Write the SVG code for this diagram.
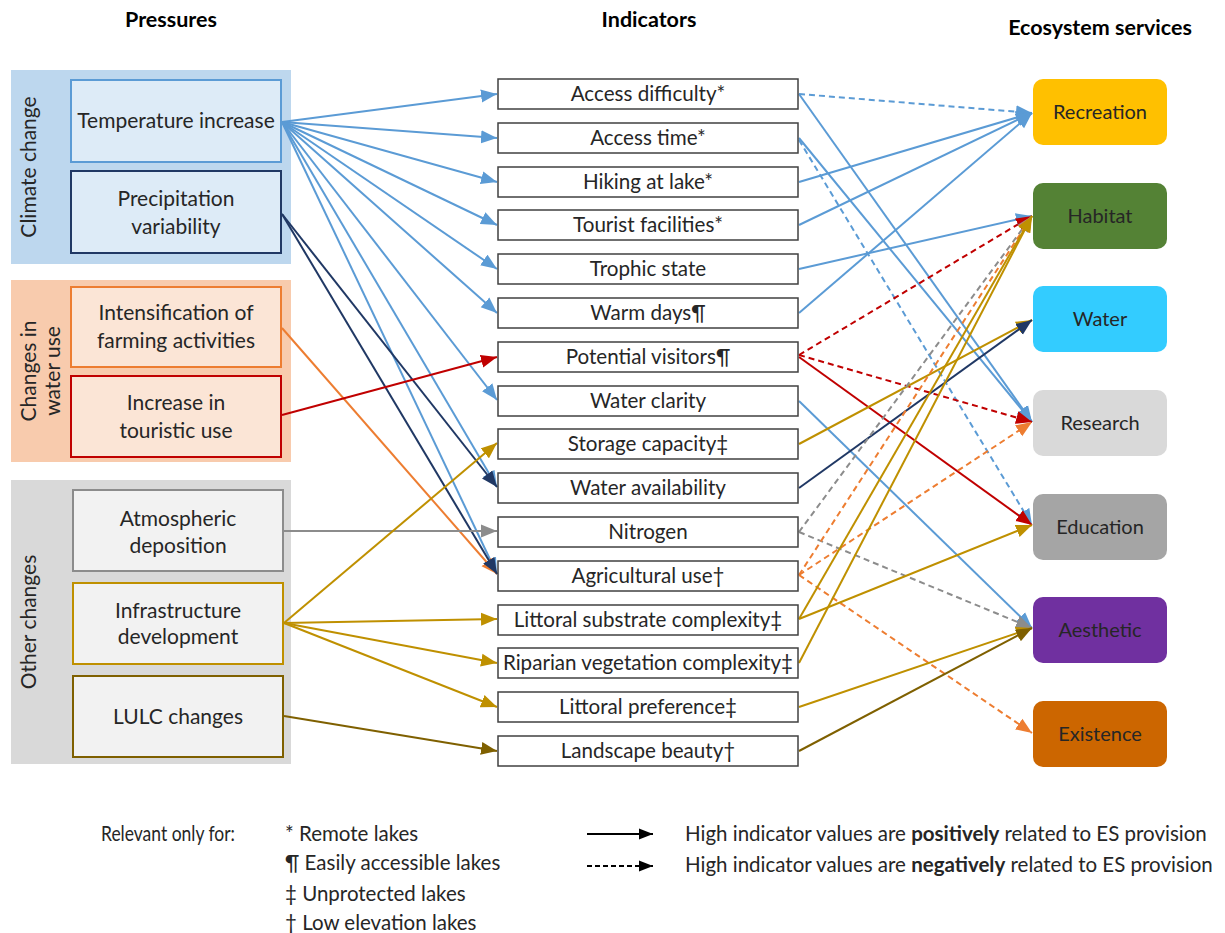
<svg xmlns="http://www.w3.org/2000/svg" width="1225" height="933" viewBox="0 0 1225 933">
<style>
text{font-family:Lato,"Liberation Sans",sans-serif;fill:#262626}
.t{font-size:21px;text-anchor:middle}
.ti{font-size:20.6px;text-anchor:middle}
.ts{font-size:20px;text-anchor:middle}
.h{font-size:21.5px;font-weight:bold;text-anchor:middle;fill:#000}
.ind{fill:#fff;stroke:#404040;stroke-width:1.5}
.c{fill:none;stroke-width:2}
.d{stroke-dasharray:6 4}
.lb{stroke:#5B9BD5}.nv{stroke:#203864}.or{stroke:#ED7D31}.rd{stroke:#C00000}.gy{stroke:#8C8C8C}.gd{stroke:#BF9000}.dg{stroke:#7F6000}.bk{stroke:#000}
.lg{font-size:20.5px}
</style>
<defs>
<marker id="mlb" markerUnits="userSpaceOnUse" markerWidth="16" markerHeight="14" refX="16" refY="7" orient="auto"><path d="M0,0.5 L16,7 L0,13.5z" fill="#5B9BD5"/></marker>
<marker id="mnv" markerUnits="userSpaceOnUse" markerWidth="16" markerHeight="14" refX="16" refY="7" orient="auto"><path d="M0,0.5 L16,7 L0,13.5z" fill="#203864"/></marker>
<marker id="mor" markerUnits="userSpaceOnUse" markerWidth="16" markerHeight="14" refX="16" refY="7" orient="auto"><path d="M0,0.5 L16,7 L0,13.5z" fill="#ED7D31"/></marker>
<marker id="mrd" markerUnits="userSpaceOnUse" markerWidth="16" markerHeight="14" refX="16" refY="7" orient="auto"><path d="M0,0.5 L16,7 L0,13.5z" fill="#C00000"/></marker>
<marker id="mgy" markerUnits="userSpaceOnUse" markerWidth="16" markerHeight="14" refX="16" refY="7" orient="auto"><path d="M0,0.5 L16,7 L0,13.5z" fill="#8C8C8C"/></marker>
<marker id="mgd" markerUnits="userSpaceOnUse" markerWidth="16" markerHeight="14" refX="16" refY="7" orient="auto"><path d="M0,0.5 L16,7 L0,13.5z" fill="#BF9000"/></marker>
<marker id="mdg" markerUnits="userSpaceOnUse" markerWidth="16" markerHeight="14" refX="16" refY="7" orient="auto"><path d="M0,0.5 L16,7 L0,13.5z" fill="#7F6000"/></marker>
<marker id="mbk" markerUnits="userSpaceOnUse" markerWidth="14" markerHeight="12" refX="14" refY="6" orient="auto"><path d="M0,0.5 L14,6 L0,11.5z" fill="#000"/></marker>
</defs>
<rect width="1225" height="933" fill="#fff"/>

<!-- headers -->
<text class="h" x="171" y="27">Pressures</text>
<text class="h" x="649" y="27">Indicators</text>
<text class="h" x="1100" y="35">Ecosystem services</text>

<!-- pressure groups -->
<g id="grp-climate">
<rect x="11" y="70" width="280" height="194" fill="#BDD7EE"/>
<text class="t" transform="translate(36,167) rotate(-90)">Climate change</text>
</g>
<g id="grp-water">
<rect x="11" y="280" width="280" height="182" fill="#F8CBAD"/>
<text class="t" transform="translate(36,371) rotate(-90)">Changes in</text>
<text class="t" transform="translate(60,371) rotate(-90)">water use</text>
</g>
<g id="grp-other">
<rect x="11" y="480" width="280" height="284" fill="#D9D9D9"/>
<text class="t" transform="translate(36,622) rotate(-90)">Other changes</text>
</g>

<g id="p-temp"><rect x="71" y="80" width="210" height="82" fill="#DDEBF7" stroke="#5B9BD5" stroke-width="2"/><text class="t" x="176" y="128">Temperature increase</text></g>
<g id="p-prec"><rect x="71" y="171" width="210" height="82" fill="#DDEBF7" stroke="#203864" stroke-width="2"/><text class="t" x="176" y="206">Precipitation</text><text class="t" x="176" y="234">variability</text></g>
<g id="p-farm"><rect x="71" y="287" width="210" height="80" fill="#FBE5D6" stroke="#ED7D31" stroke-width="2"/><text class="t" x="176" y="320">Intensification of</text><text class="t" x="176" y="348">farming activities</text></g>
<g id="p-tour"><rect x="71" y="376" width="210" height="81" fill="#FBE5D6" stroke="#C00000" stroke-width="2"/><text class="t" x="176" y="410">Increase in</text><text class="t" x="176" y="438">touristic use</text></g>
<g id="p-atm"><rect x="73" y="490" width="210" height="81" fill="#F2F2F2" stroke="#8C8C8C" stroke-width="2"/><text class="t" x="178" y="526">Atmospheric</text><text class="t" x="178" y="553">deposition</text></g>
<g id="p-infra"><rect x="73" y="583" width="210" height="81" fill="#F2F2F2" stroke="#BF9000" stroke-width="2"/><text class="t" x="178" y="618">Infrastructure</text><text class="t" x="178" y="644">development</text></g>
<g id="p-lulc"><rect x="73" y="676" width="210" height="81" fill="#F2F2F2" stroke="#7F6000" stroke-width="2"/><text class="t" x="178" y="724">LULC changes</text></g>

<!-- connectors -->
<g id="connectors">
<line class="c lb" x1="282" y1="122" x2="497" y2="94" marker-end="url(#mlb)"/>
<line class="c lb" x1="282" y1="122" x2="497" y2="138" marker-end="url(#mlb)"/>
<line class="c lb" x1="282" y1="122" x2="497" y2="182" marker-end="url(#mlb)"/>
<line class="c lb" x1="282" y1="122" x2="497" y2="225" marker-end="url(#mlb)"/>
<line class="c lb" x1="282" y1="122" x2="497" y2="269" marker-end="url(#mlb)"/>
<line class="c lb" x1="282" y1="122" x2="497" y2="313" marker-end="url(#mlb)"/>
<line class="c lb" x1="282" y1="122" x2="497" y2="400" marker-end="url(#mlb)"/>
<line class="c lb" x1="282" y1="122" x2="497" y2="487" marker-end="url(#mlb)"/>
<line class="c lb" x1="282" y1="122" x2="497" y2="574" marker-end="url(#mlb)"/>
<line class="c or" x1="282" y1="328" x2="497" y2="574" marker-end="url(#mor)" stroke-width="1.6"/>
<line class="c nv" x1="282" y1="214" x2="497" y2="487" marker-end="url(#mnv)"/>
<line class="c nv" x1="282" y1="214" x2="497" y2="574" marker-end="url(#mnv)"/>
<line class="c rd" x1="282" y1="415" x2="497" y2="357" marker-end="url(#mrd)"/>
<line class="c gy" x1="284" y1="531" x2="497" y2="531" marker-end="url(#mgy)"/>
<line class="c gd" x1="284" y1="623" x2="497" y2="443" marker-end="url(#mgd)"/>
<line class="c gd" x1="284" y1="623" x2="497" y2="619" marker-end="url(#mgd)"/>
<line class="c gd" x1="284" y1="623" x2="497" y2="663" marker-end="url(#mgd)"/>
<line class="c gd" x1="284" y1="623" x2="497" y2="707" marker-end="url(#mgd)"/>
<line class="c dg" x1="284" y1="716" x2="497" y2="751" marker-end="url(#mdg)"/>

<line class="c lb d" x1="799" y1="94" x2="1032" y2="113" marker-end="url(#mlb)"/>
<line class="c lb" x1="799" y1="94" x2="1032" y2="422" marker-end="url(#mlb)"/>
<line class="c lb" x1="799" y1="138" x2="1032" y2="422" marker-end="url(#mlb)"/>
<line class="c lb d" x1="799" y1="140" x2="1032" y2="525" marker-end="url(#mlb)"/>
<line class="c lb" x1="799" y1="182" x2="1032" y2="113" marker-end="url(#mlb)"/>
<line class="c lb" x1="799" y1="225" x2="1032" y2="113" marker-end="url(#mlb)"/>
<line class="c lb" x1="799" y1="269" x2="1032" y2="216" marker-end="url(#mlb)"/>
<line class="c lb" x1="799" y1="313" x2="1032" y2="113" marker-end="url(#mlb)"/>
<line class="c rd d" x1="799" y1="355" x2="1032" y2="216" marker-end="url(#mrd)"/>
<line class="c rd d" x1="799" y1="355" x2="1032" y2="422" marker-end="url(#mrd)"/>
<line class="c rd" x1="799" y1="357" x2="1032" y2="525" marker-end="url(#mrd)"/>
<line class="c lb" x1="799" y1="401" x2="1032" y2="628" marker-end="url(#mlb)"/>
<line class="c gd" x1="799" y1="444" x2="1032" y2="320" marker-end="url(#mgd)"/>
<line class="c nv" x1="799" y1="488" x2="1032" y2="320" marker-end="url(#mnv)"/>
<line class="c gy d" x1="799" y1="532" x2="1032" y2="216" marker-end="url(#mgy)"/>
<line class="c gy d" x1="799" y1="532" x2="1032" y2="628" marker-end="url(#mgy)"/>
<line class="c or d" x1="799" y1="575" x2="1032" y2="216" marker-end="url(#mor)"/>
<line class="c or d" x1="799" y1="575" x2="1032" y2="422" marker-end="url(#mor)"/>
<line class="c or d" x1="799" y1="575" x2="1032" y2="733" marker-end="url(#mor)"/>
<line class="c gd" x1="799" y1="619" x2="1032" y2="216" marker-end="url(#mgd)"/>
<line class="c gd" x1="799" y1="619" x2="1032" y2="525" marker-end="url(#mgd)"/>
<line class="c gd" x1="799" y1="663" x2="1032" y2="216" marker-end="url(#mgd)"/>
<line class="c gd" x1="799" y1="707" x2="1032" y2="628" marker-end="url(#mgd)"/>
<line class="c dg" x1="799" y1="751" x2="1032" y2="628" marker-end="url(#mdg)"/>
</g>

<!-- indicators -->
<g id="i-access-difficulty"><rect class="ind" x="498" y="79" width="300" height="30"/><text class="ti" x="648" y="101">Access difficulty*</text></g>
<g id="i-access-time"><rect class="ind" x="498" y="123" width="300" height="30"/><text class="ti" x="648" y="145">Access time*</text></g>
<g id="i-hiking"><rect class="ind" x="498" y="167" width="300" height="30"/><text class="ti" x="648" y="189">Hiking at lake*</text></g>
<g id="i-tourist"><rect class="ind" x="498" y="210" width="300" height="30"/><text class="ti" x="648" y="232">Tourist facilities*</text></g>
<g id="i-trophic"><rect class="ind" x="498" y="254" width="300" height="30"/><text class="ti" x="648" y="276">Trophic state</text></g>
<g id="i-warm"><rect class="ind" x="498" y="298" width="300" height="30"/><text class="ti" x="648" y="320">Warm days¶</text></g>
<g id="i-potential"><rect class="ind" x="498" y="342" width="300" height="30"/><text class="ti" x="648" y="364">Potential visitors¶</text></g>
<g id="i-clarity"><rect class="ind" x="498" y="386" width="300" height="30"/><text class="ti" x="648" y="408">Water clarity</text></g>
<g id="i-storage"><rect class="ind" x="498" y="429" width="300" height="30"/><text class="ti" x="648" y="451">Storage capacity‡</text></g>
<g id="i-availability"><rect class="ind" x="498" y="473" width="300" height="30"/><text class="ti" x="648" y="495">Water availability</text></g>
<g id="i-nitrogen"><rect class="ind" x="498" y="517" width="300" height="30"/><text class="ti" x="648" y="539">Nitrogen</text></g>
<g id="i-agri"><rect class="ind" x="498" y="561" width="300" height="30"/><text class="ti" x="648" y="583">Agricultural use†</text></g>
<g id="i-littoral-sub"><rect class="ind" x="498" y="605" width="300" height="30"/><text class="ti" x="648" y="627">Littoral substrate complexity‡</text></g>
<g id="i-riparian"><rect class="ind" x="498" y="648" width="300" height="30"/><text class="ti" x="648" y="670">Riparian vegetation complexity‡</text></g>
<g id="i-littoral-pref"><rect class="ind" x="498" y="692" width="300" height="30"/><text class="ti" x="648" y="714">Littoral preference‡</text></g>
<g id="i-landscape"><rect class="ind" x="498" y="736" width="300" height="30"/><text class="ti" x="648" y="758">Landscape beauty†</text></g>

<!-- services -->
<g id="s-recreation"><rect x="1033" y="79" width="134" height="66" rx="10" fill="#FFC000"/><text class="ts" x="1100" y="119">Recreation</text></g>
<g id="s-habitat"><rect x="1033" y="183" width="134" height="66" rx="10" fill="#548235"/><text class="ts" x="1100" y="223">Habitat</text></g>
<g id="s-water"><rect x="1033" y="286" width="134" height="66" rx="10" fill="#33CCFF"/><text class="ts" x="1100" y="326">Water</text></g>
<g id="s-research"><rect x="1033" y="390" width="134" height="66" rx="10" fill="#D9D9D9"/><text class="ts" x="1100" y="430">Research</text></g>
<g id="s-education"><rect x="1033" y="494" width="134" height="66" rx="10" fill="#A5A5A5"/><text class="ts" x="1100" y="534">Education</text></g>
<g id="s-aesthetic"><rect x="1033" y="597" width="134" height="66" rx="10" fill="#7030A0"/><text class="ts" x="1100" y="637">Aesthetic</text></g>
<g id="s-existence"><rect x="1033" y="701" width="134" height="66" rx="10" fill="#CC6600"/><text class="ts" x="1100" y="741">Existence</text></g>

<!-- legend -->
<g id="legend">
<text class="lg" x="101" y="841" textLength="134" lengthAdjust="spacingAndGlyphs">Relevant only for:</text>
<text class="lg" x="285" y="841">* Remote lakes</text>
<text class="lg" x="285" y="870">¶ Easily accessible lakes</text>
<text class="lg" x="285" y="901">‡ Unprotected lakes</text>
<text class="lg" x="285" y="930">† Low elevation lakes</text>
<line class="c bk" x1="587" y1="834" x2="653" y2="834" marker-end="url(#mbk)"/>
<line class="c bk" x1="587" y1="866" x2="653" y2="866" stroke-dasharray="5 3" marker-end="url(#mbk)"/>
<text class="lg" x="685" y="841">High indicator values are <tspan font-weight="bold">positively</tspan> related to ES provision</text>
<text class="lg" x="685" y="872">High indicator values are <tspan font-weight="bold">negatively</tspan> related to ES provision</text>
</g>
</svg>
